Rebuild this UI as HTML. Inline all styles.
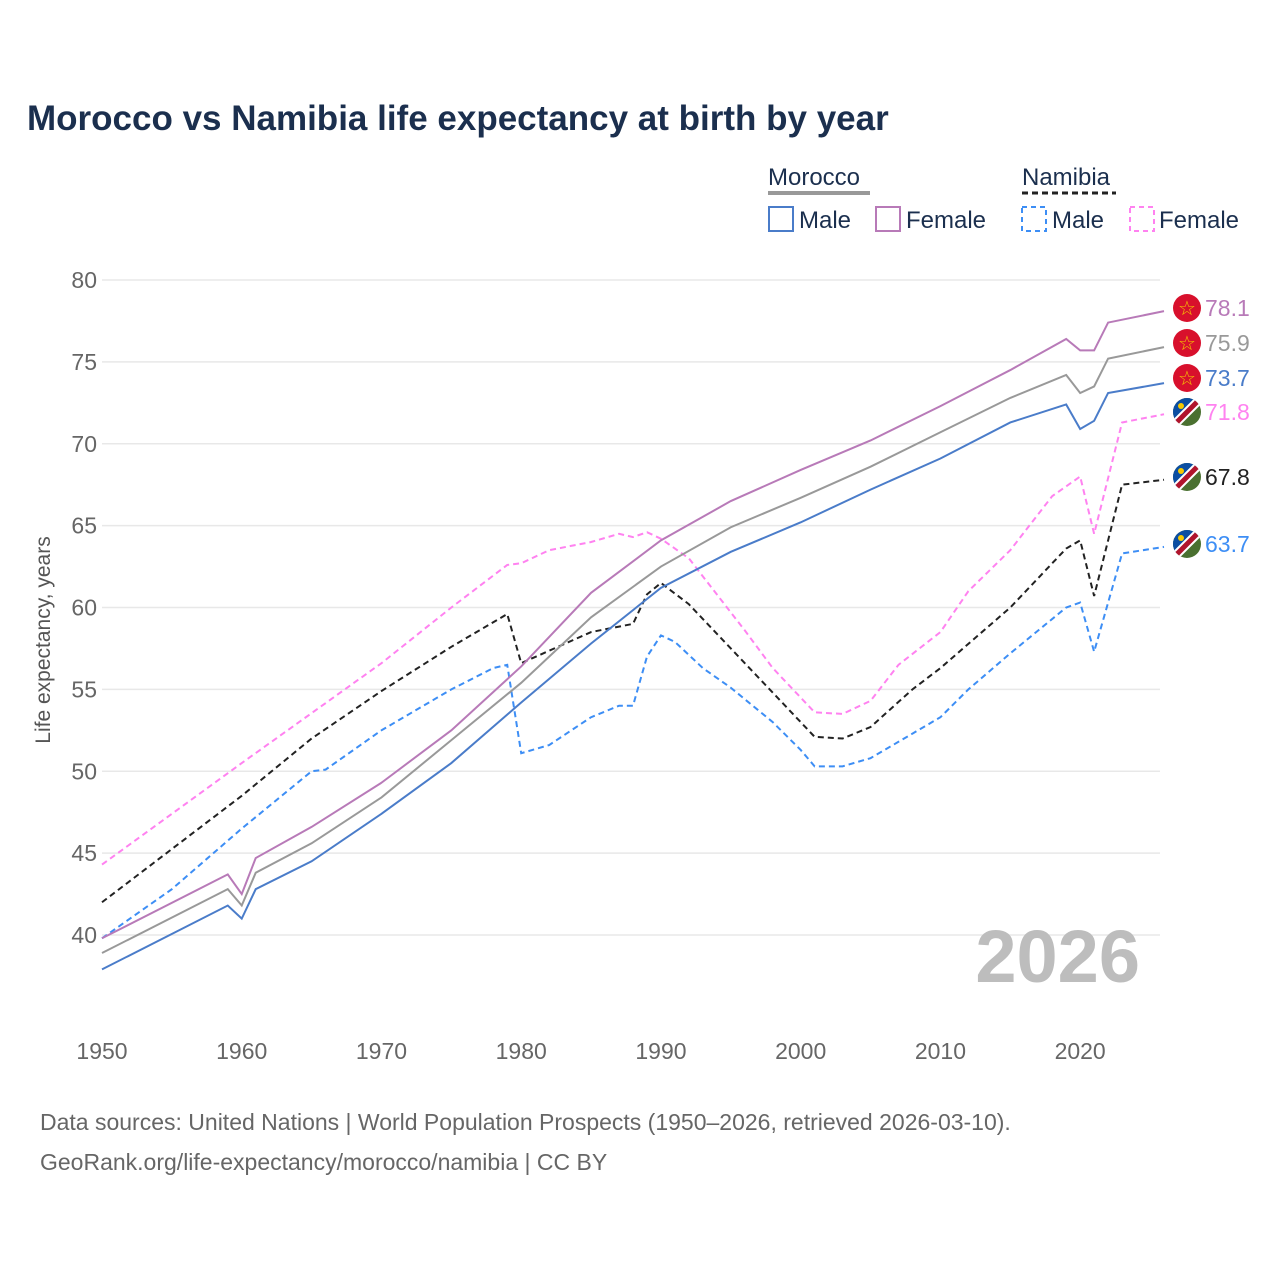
<!DOCTYPE html>
<html><head><meta charset="utf-8"><style>
body{margin:0;background:#fff;font-family:"Liberation Sans",sans-serif;}
</style></head><body>
<svg id="c" width="1280" height="1280" xmlns="http://www.w3.org/2000/svg">
<defs>
<clipPath id="cc"><circle cx="0" cy="0" r="14"/></clipPath>
</defs>
<text x="27" y="130" font-size="35" font-weight="bold" fill="#1b2f4e">Morocco vs Namibia life expectancy at birth by year</text>
<g id="legend" font-size="24" fill="#1b2f4e">
<text x="768" y="185">Morocco</text>
<line x1="768" y1="193" x2="870" y2="193" stroke="#999" stroke-width="4"/>
<text x="1022" y="185">Namibia</text>
<line x1="1022" y1="193" x2="1116" y2="193" stroke="#222" stroke-width="3" stroke-dasharray="6,4"/>
<rect x="769" y="207" width="24" height="24" fill="none" stroke="#4a7cc9" stroke-width="2"/>
<text x="799" y="228">Male</text>
<rect x="876" y="207" width="24" height="24" fill="none" stroke="#b87ab8" stroke-width="2"/>
<text x="906" y="228">Female</text>
<rect x="1022" y="207" width="24" height="24" fill="none" stroke="#3d8ef5" stroke-width="2" stroke-dasharray="5,4"/>
<text x="1052" y="228">Male</text>
<rect x="1130" y="207" width="24" height="24" fill="none" stroke="#ff82f0" stroke-width="2" stroke-dasharray="5,4"/>
<text x="1159" y="228">Female</text>
</g>
<g id="grid"></g><g id="series"></g><g id="ends"></g>
<text x="1140" y="982" text-anchor="end" font-size="74" font-weight="bold" fill="#bdbdbd">2026</text>
<text transform="translate(50,640) rotate(-90)" text-anchor="middle" font-size="21" fill="#555">Life expectancy, years</text>
<text x="40" y="1130" font-size="23" fill="#666">Data sources: United Nations | World Population Prospects (1950–2026, retrieved 2026-03-10).</text>
<text x="40" y="1170" font-size="23" fill="#666">GeoRank.org/life-expectancy/morocco/namibia | CC BY</text>
</svg>
<script>
const yTicks=[40,45,50,55,60,65,70,75,80];
const xTicks=[1950,1960,1970,1980,1990,2000,2010,2020];
const maYears=[1950,1959,1960,1961,1965,1970,1975,1980,1985,1990,1995,2000,2005,2010,2015,2019,2020,2021,2022,2026];
const maMale=[37.9,41.8,41.0,42.8,44.5,47.4,50.5,54.2,57.8,61.2,63.4,65.2,67.2,69.1,71.3,72.4,70.9,71.4,73.1,73.7];
const maAll=[38.9,42.8,41.8,43.8,45.6,48.4,51.9,55.4,59.4,62.5,64.9,66.7,68.6,70.7,72.8,74.2,73.1,73.5,75.2,75.9];
const maFemale=[39.8,43.7,42.5,44.7,46.6,49.3,52.5,56.4,60.9,64.1,66.5,68.4,70.2,72.3,74.5,76.4,75.7,75.7,77.4,78.1];
const naFYears=[1950,1960,1970,1975,1979,1980,1982,1985,1987,1988,1989,1990,1992,1994,1996,1998,2000,2001,2003,2005,2007,2010,2012,2015,2018,2020,2021,2023,2026];
const naFemale=[44.3,50.5,56.6,60.0,62.6,62.7,63.5,64.0,64.5,64.3,64.6,64.2,63.0,60.8,58.6,56.3,54.5,53.6,53.5,54.3,56.5,58.5,61.0,63.5,66.8,68.0,64.5,71.3,71.8];
const naAYears=[1950,1960,1965,1970,1975,1979,1980,1985,1988,1989,1990,1992,1995,2000,2001,2003,2005,2008,2010,2015,2019,2020,2021,2023,2026];
const naAll=[42.0,48.5,52.0,54.9,57.6,59.6,56.6,58.5,59.0,60.8,61.5,60.2,57.5,53.0,52.1,52.0,52.7,55.0,56.3,60.0,63.6,64.1,60.7,67.5,67.8];
const naMYears=[1950,1955,1960,1965,1966,1970,1975,1978,1979,1980,1982,1985,1987,1988,1989,1990,1991,1993,1995,1998,2000,2001,2003,2005,2008,2010,2012,2015,2019,2020,2021,2023,2026];
const naMale=[39.8,42.8,46.5,50.0,50.1,52.5,55.0,56.3,56.5,51.1,51.6,53.3,54.0,54.0,57.0,58.3,57.9,56.3,55.1,53.0,51.3,50.3,50.3,50.8,52.3,53.3,55.0,57.2,60.0,60.3,57.3,63.3,63.7];
const NS="http://www.w3.org/2000/svg";
const X=y=>102+(y-1950)*(1164-102)/76;
const Y=v=>935-(v-40)*(935-280)/40;
function mk(t,a,p){const e=document.createElementNS(NS,t);for(const k in a)e.setAttribute(k,a[k]);p.appendChild(e);return e;}
const g=document.getElementById('grid');
yTicks.forEach(v=>{
 const l=mk('line',{x1:102,x2:1160,y1:Y(v),y2:Y(v),stroke:'#e8e8e8','stroke-width':1.5},g);
 
 
 const t=mk('text',{x:97,y:Y(v)+8,'text-anchor':'end','font-size':23,fill:'#666'},g);t.textContent=v;
 
 
});
xTicks.forEach(y=>{
 const t=mk('text',{x:X(y),y:1059,'text-anchor':'middle','font-size':23,fill:'#666'},g);t.textContent=y;
 
 
});
const s=document.getElementById('series');
function line(ys,vs,col,dash,name){
 const p=mk('polyline',{points:ys.map((y,i)=>X(y)+','+Y(vs[i])).join(' '),fill:'none',stroke:col,'stroke-width':2,'stroke-dasharray':dash||'none'},s);
 
 
}
line(naFYears,naFemale,'#ff82f0','6,4','namibia-female-line');
line(naMYears,naMale,'#3d8ef5','6,4','namibia-male-line');
line(naAYears,naAll,'#222','6,4','namibia-total-line');
line(maYears,maFemale,'#b87ab8',null,'morocco-female-line');
line(maYears,maAll,'#999',null,'morocco-total-line');
line(maYears,maMale,'#4a7cc9',null,'morocco-male-line');
const e=document.getElementById('ends');
function flag(cy,ma){
 const gg=mk('g',{transform:'translate(1187,'+cy+')'},e);
 if(ma){mk('circle',{r:14,fill:'#d8102c'},gg);
  const st=mk('text',{x:0,y:7,'text-anchor':'middle','font-size':20,fill:'#f6c800'},gg);st.textContent='☆';}
 else{const c=mk('g',{'clip-path':'url(#cc)'},gg);
  mk('rect',{x:-14,y:-14,width:28,height:28,fill:'#4a7030'},c);
  mk('polygon',{points:'-14,-14 14,-14 -14,14',fill:'#0b4ea2'},c);
  mk('line',{x1:-16,y1:16,x2:16,y2:-16,stroke:'#fff','stroke-width':9},c);
  mk('line',{x1:-16,y1:16,x2:16,y2:-16,stroke:'#b0142c','stroke-width':5},c);
  mk('circle',{cx:-6,cy:-6,r:3,fill:'#f6c800'},c);}
 
 
}
const endVals=[[maFemale,'#b87ab8',308,1],[maAll,'#999',343,1],[maMale,'#4a7cc9',378,1],[naFemale,'#ff82f0',412,0],[naAll,'#222',477,0],[naMale,'#3d8ef5',544,0]];
endVals.forEach(([arr,col,cy,ma],i)=>{
 flag(cy,ma);
 const t=mk('text',{x:1205,y:cy+8,'font-size':23,fill:col},e);t.textContent=arr[arr.length-1].toFixed(1);
 
 
});
</script>
</body></html>
